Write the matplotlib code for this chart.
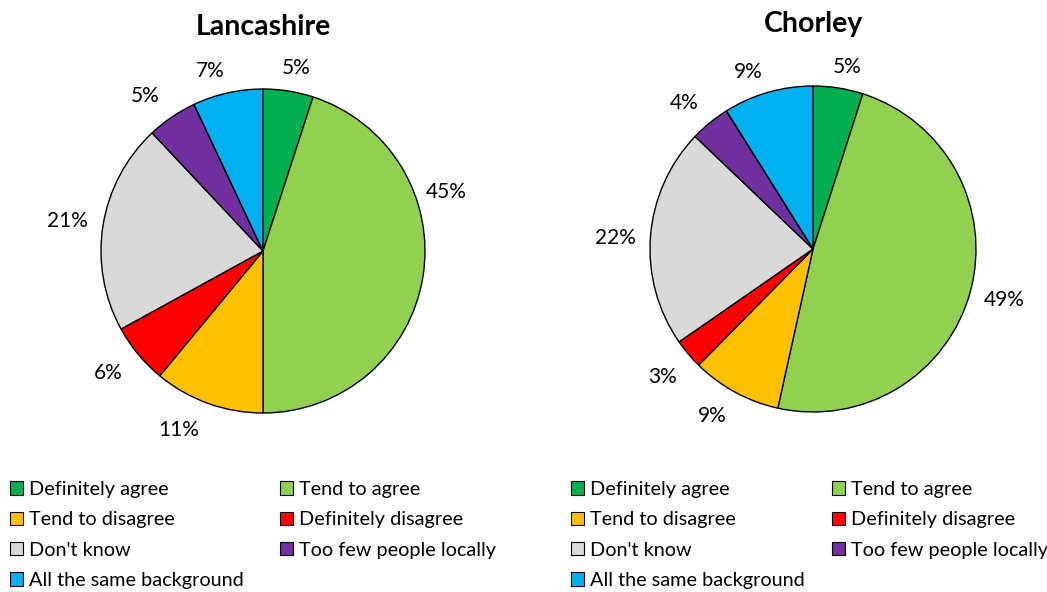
import matplotlib
matplotlib.use("Agg")
import matplotlib.pyplot as plt
from matplotlib.patches import Patch

categories = ["Definitely agree", "Tend to agree", "Tend to disagree", "Definitely disagree",
              "Don't know", "Too few people locally", "All the same background"]
lancashire = [5, 45, 11, 6, 21, 5, 7]
chorley = [5, 49, 9, 3, 22, 4, 9]
titles = ["Lancashire", "Chorley"]
colors = ["#00B050", "#92D050", "#FFC000", "#FF0000", "#D9D9D9", "#7030A0", "#00B0F0"]

# label placement nudges (pixels: right, down) mimicking best-fit label placement
nudge_lanc = [(3, 7), (-7, -89), (-19, -2), (-6, -1), (-5, 0), (-9, 4), (-11, 8)]
nudge_chor = [(4, 10), (4, 0), (-8, -3), (-2, 3), (-4, 4), (-6, 4), (-11, 9)]

plt.rcParams['font.family'] = ['Lato', 'DejaVu Sans']

W, H = 1047, 592
fig = plt.figure(figsize=(W / 100, H / 100), dpi=100)

def add_pie(cx, cy, r, vals, title, nudges):
    ax = fig.add_axes([(cx - r) / W, (H - cy - r) / H, 2 * r / W, 2 * r / H])
    _, _, autotexts = ax.pie(vals, colors=colors, startangle=90, counterclock=False, radius=1,
                             autopct=lambda p: f"{p:.0f}%", pctdistance=1.19,
                             wedgeprops=dict(edgecolor="black", linewidth=1),
                             textprops=dict(fontsize=15, color="black"))
    for t, (dx, dy) in zip(autotexts, nudges):
        x, y = t.get_position()
        t.set_position((x + dx / r, y - dy / r))
    ax.set_xlim(-1.0, 1.0)
    ax.set_ylim(-1.0, 1.0)
    ax.set_title(title, fontsize=20.5, fontweight="bold", pad=39)
    return ax

add_pie(263, 251, 162, lancashire, titles[0], nudge_lanc)
add_pie(813, 249, 163, chorley, titles[1], nudge_chor)

cols = [[0, 2, 4, 6], [1, 3, 5]]
for xs in ((10, 280), (571, 832)):
    for x0, idx in zip(xs, cols):
        handles = [Patch(facecolor=colors[i], edgecolor="black", linewidth=0.8) for i in idx]
        labels = [categories[i] for i in idx]
        fig.legend(handles, labels, loc="upper left", bbox_to_anchor=(x0 / W, 1 - 481 / H),
                   ncol=1, frameon=False, fontsize=14.3, handlelength=0.65, handleheight=0.65,
                   handletextpad=0.3, labelspacing=0.67, borderpad=0, borderaxespad=0)

fig.savefig("out.png", dpi=100)
